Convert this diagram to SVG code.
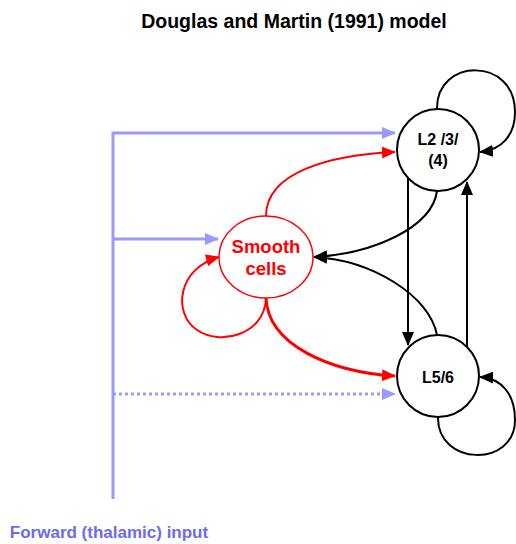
<svg xmlns="http://www.w3.org/2000/svg" width="516" height="544" viewBox="0 0 516 544">
<style>
text{font-family:"Liberation Sans",Arial,sans-serif;font-weight:bold;text-anchor:middle}
.blue{stroke:#9999ff;stroke-width:3;fill:none}
.red{stroke:#ff0000;fill:none}
.blk{stroke:#000;stroke-width:2;fill:none}
</style>
<defs>
<marker id="ab" markerUnits="userSpaceOnUse" markerWidth="14" markerHeight="12" refX="13" refY="6" orient="auto"><path d="M0,0 L14,6 L0,12 z" fill="#9999ff"/></marker>
<marker id="ar" markerUnits="userSpaceOnUse" markerWidth="14" markerHeight="12" refX="13" refY="6" orient="auto"><path d="M0,0 L14,6 L0,12 z" fill="#ff0000"/></marker>
<marker id="ak" markerUnits="userSpaceOnUse" markerWidth="14" markerHeight="12" refX="13" refY="6" orient="auto"><path d="M0,0 L14,6 L0,12 z" fill="#000"/></marker>
</defs>
<text x="294" y="28" font-size="19.5">Douglas and Martin (1991) model</text>
<g id="connectors">
<path class="blue" d="M113,499 V133 H395" marker-end="url(#ab)"/>
<path class="blue" d="M113,239 H218" marker-end="url(#ab)"/>
<path class="blue" d="M113,394 H395" stroke-dasharray="3,3" marker-end="url(#ab)"/>
<path class="red" stroke-width="2" d="M266,216 C266,172 330,155 395,152" marker-end="url(#ar)"/>
<path class="red" stroke-width="3" d="M266,298 C268,345 330,372 395,376" marker-end="url(#ar)"/>
<path class="red" stroke-width="2" d="M266,299 C264,335 220,346 197,330 C172,313 178,268 219,257" marker-end="url(#ar)"/>
<path class="blk" d="M408,178 V345" marker-end="url(#ak)"/>
<path class="blk" d="M467,347 V182" marker-end="url(#ak)"/>
<path class="blk" d="M437,191 C432,228 372,254 314,257" marker-end="url(#ak)"/>
<path class="blk" d="M437,335 C430,296 372,260 314,257" marker-end="url(#ak)"/>
<path class="blk" d="M437,109 C436,58 515,56 515,112 C515,135 502,150 480,152" marker-end="url(#ak)"/>
<path class="blk" d="M438,417 C437,466 515,468 515,420 C515,395 502,378 480,377" marker-end="url(#ak)"/>
</g>
<g id="L23">
<circle cx="438" cy="150" r="41" fill="#fff" stroke="#000" stroke-width="2"/>
<text x="438" y="145" font-size="16">L2 /3/</text>
<text x="438" y="166" font-size="16">(4)</text>
</g>
<g id="L56">
<circle cx="438" cy="376" r="41" fill="#fff" stroke="#000" stroke-width="2"/>
<text x="438" y="383" font-size="16">L5/6</text>
</g>
<g id="smooth">
<ellipse cx="266" cy="257" rx="47" ry="41" fill="#fff" stroke="#ff0000" stroke-width="1.5"/>
<text x="266" y="253" font-size="18.5" fill="#ff0000">Smooth</text>
<text x="266" y="275" font-size="18.5" fill="#ff0000">cells</text>
</g>
<text x="109" y="538" font-size="17" fill="#6b6bf0">Forward (thalamic) input</text>
</svg>
